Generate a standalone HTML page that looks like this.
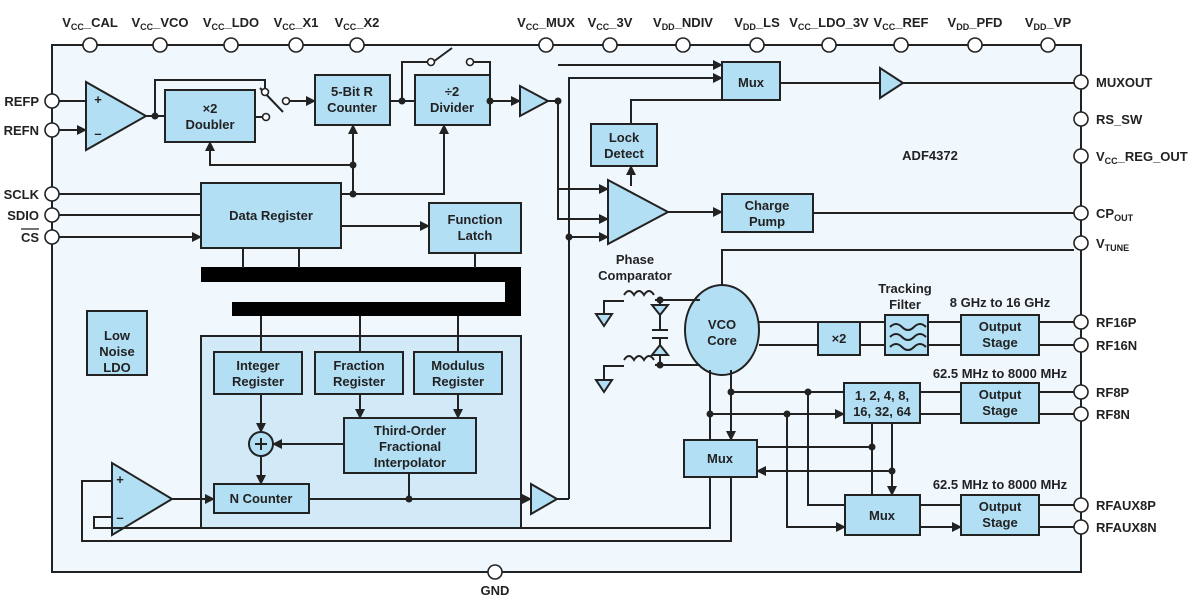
<!DOCTYPE html>
<html><head><style>
body{margin:0;background:#fff}
svg{display:block}
text{font-family:"Liberation Sans",sans-serif;font-weight:bold;font-size:13px;fill:#222}
.b{fill:#b3dff5;stroke:#222;stroke-width:2}
.l{fill:none;stroke:#222;stroke-width:2}
.p{fill:#fff;stroke:#222;stroke-width:1.6}
.d{fill:#222}
</style></head><body>
<svg width="1197" height="601" viewBox="0 0 1197 601">
<defs><marker id="a" viewBox="0 0 10 10" refX="9" refY="5" markerWidth="5" markerHeight="5" orient="auto"><path d="M0,0L10,5L0,10z" fill="#222"/></marker></defs>
<rect x="52" y="45" width="1029" height="527" fill="#f0f7fd" stroke="#222" stroke-width="2"/>
<g text-anchor="middle">
<text x="90" y="27">V<tspan font-size="9" dy="3">CC</tspan><tspan dy="-3">_CAL</tspan></text>
<text x="160" y="27">V<tspan font-size="9" dy="3">CC</tspan><tspan dy="-3">_VCO</tspan></text>
<text x="231" y="27">V<tspan font-size="9" dy="3">CC</tspan><tspan dy="-3">_LDO</tspan></text>
<text x="296" y="27">V<tspan font-size="9" dy="3">CC</tspan><tspan dy="-3">_X1</tspan></text>
<text x="357" y="27">V<tspan font-size="9" dy="3">CC</tspan><tspan dy="-3">_X2</tspan></text>
<text x="546" y="27">V<tspan font-size="9" dy="3">CC</tspan><tspan dy="-3">_MUX</tspan></text>
<text x="610" y="27">V<tspan font-size="9" dy="3">CC</tspan><tspan dy="-3">_3V</tspan></text>
<text x="683" y="27">V<tspan font-size="9" dy="3">DD</tspan><tspan dy="-3">_NDIV</tspan></text>
<text x="757" y="27">V<tspan font-size="9" dy="3">DD</tspan><tspan dy="-3">_LS</tspan></text>
<text x="829" y="27">V<tspan font-size="9" dy="3">CC</tspan><tspan dy="-3">_LDO_3V</tspan></text>
<text x="901" y="27">V<tspan font-size="9" dy="3">CC</tspan><tspan dy="-3">_REF</tspan></text>
<text x="975" y="27">V<tspan font-size="9" dy="3">DD</tspan><tspan dy="-3">_PFD</tspan></text>
<text x="1048" y="27">V<tspan font-size="9" dy="3">DD</tspan><tspan dy="-3">_VP</tspan></text>
<text x="495" y="595">GND</text>
</g>
<g text-anchor="end">
<text x="39" y="106">REFP</text><text x="39" y="135">REFN</text><text x="39" y="199">SCLK</text><text x="39" y="220">SDIO</text><text x="39" y="242">CS</text>
</g>
<line x1="21" y1="229" x2="39" y2="229" stroke="#222" stroke-width="1.3"/>
<text x="1096" y="87">MUXOUT</text><text x="1096" y="124">RS_SW</text>
<text x="1096" y="161">V<tspan font-size="9" dy="3">CC</tspan><tspan dy="-3">_REG_OUT</tspan></text>
<text x="1096" y="218">CP<tspan font-size="9" dy="3">OUT</tspan></text>
<text x="1096" y="248">V<tspan font-size="9" dy="3">TUNE</tspan></text>
<text x="1096" y="327">RF16P</text><text x="1096" y="350">RF16N</text><text x="1096" y="397">RF8P</text><text x="1096" y="419">RF8N</text><text x="1096" y="510">RFAUX8P</text><text x="1096" y="532">RFAUX8N</text>

<rect x="201" y="336" width="320" height="192" fill="#d2eaf8" stroke="#222" stroke-width="2"/>
<path d="M201,267H521V316H232V302H505V282H201z" fill="#000"/>
<g class="b">
<path d="M86,82V150L146,116z"/>
<rect x="165" y="90" width="90" height="52"/>
<rect x="315" y="75" width="75" height="50"/>
<rect x="415" y="75" width="75" height="50"/>
<path d="M520,86V116L548,101z"/>
<rect x="722" y="62" width="58" height="38"/>
<path d="M880,68V98L903,83z"/>
<rect x="591" y="124" width="66" height="42"/>
<path d="M608,180V244L668,212z"/>
<rect x="722" y="194" width="91" height="38"/>
<rect x="201" y="183" width="140" height="65"/>
<rect x="429" y="203" width="92" height="50"/>
<rect x="87" y="311" width="60" height="64"/>
<rect x="214" y="352" width="88" height="42"/>
<rect x="315" y="352" width="88" height="42"/>
<rect x="414" y="352" width="88" height="42"/>
<circle cx="261" cy="444" r="12"/>
<rect x="344" y="418" width="132" height="55"/>
<rect x="214" y="484" width="95" height="29"/>
<path d="M531,484V514L557,499z"/>
<path d="M112,463V535L172,499z"/>
<ellipse cx="722" cy="330" rx="37" ry="45"/>
<rect x="818" y="322" width="42" height="33"/>
<rect x="885" y="315" width="43" height="40"/>
<rect x="961" y="315" width="78" height="40"/>
<rect x="961" y="383" width="78" height="40"/>
<rect x="961" y="495" width="78" height="40"/>
<rect x="844" y="383" width="76" height="40"/>
<rect x="684" y="440" width="73" height="37"/>
<rect x="845" y="495" width="75" height="40"/>
</g>

<g class="l">
<path d="M59,101H86M59,130H86" marker-end="url(#a)"/>
<path d="M146,116H165M155,116V80H265V90"/>
<path d="M260,88L283,112"/><path d="M290,101H315" marker-end="url(#a)"/>
<path d="M255,117H262"/>
<path d="M390,101H415M402,101V62H428M473,62H490V101"/>
<path d="M433,62L452,48"/>
<path d="M490,101H520" marker-end="url(#a)"/>
<path d="M59,194H201M59,215H201M59,237H201" marker-end="url(#a)"/>
<path d="M353,194V125" marker-end="url(#a)"/>
<path d="M353,165H210V142" marker-end="url(#a)"/>
<path d="M341,194H444V125" marker-end="url(#a)"/>
<path d="M341,226H429" marker-end="url(#a)"/>
<path d="M243,248V268M299,248V268M475,253V268"/>
<path d="M261,316V352M360,316V352M458,316V352"/>
<path d="M548,101H558V219H608" marker-end="url(#a)"/>
<path d="M558,65H722" marker-end="url(#a)"/>
<path d="M558,189H608" marker-end="url(#a)"/>
<path d="M569,499V78H722" marker-end="url(#a)"/>
<path d="M569,237H608" marker-end="url(#a)"/>
<path d="M631,124V100H722"/>
<path d="M780,83H880"/><path d="M903,83H1074"/>
<path d="M631,186V166" marker-end="url(#a)"/>
<path d="M668,212H722" marker-end="url(#a)"/>
<path d="M813,213H1074"/>
<path d="M722,285V250H1074"/>
<path d="M261,394V432" marker-end="url(#a)"/>
<path d="M360,394V418" marker-end="url(#a)"/>
<path d="M458,394V418" marker-end="url(#a)"/>
<path d="M344,444H273" marker-end="url(#a)"/>
<path d="M261,456V484" marker-end="url(#a)"/>
<path d="M409,473V499"/>
<path d="M309,499H531" marker-end="url(#a)"/>
<path d="M557,499H569"/>
<path d="M172,499H214" marker-end="url(#a)"/>
<path d="M112,481H82V541H731V477M112,517H94V528H710V477"/>
<path d="M759,322H818M759,345H818M860,322H885M860,345H885"/>
<path d="M928,322H961M928,345H961M920,392H961M920,414H961M920,505H961M920,527H961" marker-end="url(#a)"/>
<path d="M1039,322H1074M1039,345H1074M1039,392H1074M1039,414H1074M1039,505H1074M1039,527H1074"/>
<path d="M731,370V392H844M710,370V414H844" marker-end="url(#a)"/>
<path d="M710,414V440M731,392V440" marker-end="url(#a)"/>
<path d="M808,392V505H845M787,414V527H845" marker-end="url(#a)"/>
<path d="M872,423V495M892,423V495" marker-end="url(#a)"/>
<path d="M872,447H757M892,471H757" marker-end="url(#a)"/>
<path d="M655,300H700M655,365H700"/>
<path d="M624,295q5,-8 10,0q5,-8 10,0q5,-8 10,0M604,314V301H624M624,360q5,-8 10,0q5,-8 10,0q5,-8 10,0M604,380V366H624"/>
<path d="M660,300V330M660,338V365M652,330H668M652,338H668"/>
</g>
<g class="b">
<path d="M596,314H612L604,326z M596,380H612L604,392z"/>
<path d="M652,305H668L660,315z"/>
<path d="M652,355H668L660,345z"/>
</g>
<g class="d">
<circle cx="155" cy="116" r="3.5"/><circle cx="402" cy="101" r="3.5"/><circle cx="490" cy="101" r="3.5"/><circle cx="558" cy="101" r="3.5"/><circle cx="353" cy="165" r="3.5"/><circle cx="353" cy="194" r="3.5"/><circle cx="569" cy="237" r="3.5"/><circle cx="409" cy="499" r="3.5"/>
<circle cx="660" cy="300" r="3.5"/><circle cx="660" cy="365" r="3.5"/><circle cx="731" cy="392" r="3.5"/><circle cx="710" cy="414" r="3.5"/><circle cx="808" cy="392" r="3.5"/><circle cx="787" cy="414" r="3.5"/><circle cx="872" cy="447" r="3.5"/><circle cx="892" cy="471" r="3.5"/>
</g>
<g class="p"><circle cx="265" cy="92" r="3.5"/><circle cx="286" cy="101" r="3.5"/><circle cx="266" cy="117" r="3.5"/><circle cx="431" cy="62" r="3.5"/><circle cx="470" cy="62" r="3.5"/></g>
<g class="p">
<circle cx="90" cy="45" r="7"/><circle cx="160" cy="45" r="7"/><circle cx="231" cy="45" r="7"/><circle cx="296" cy="45" r="7"/><circle cx="357" cy="45" r="7"/>
<circle cx="546" cy="45" r="7"/><circle cx="610" cy="45" r="7"/><circle cx="683" cy="45" r="7"/><circle cx="757" cy="45" r="7"/><circle cx="829" cy="45" r="7"/><circle cx="901" cy="45" r="7"/><circle cx="975" cy="45" r="7"/><circle cx="1048" cy="45" r="7"/>
<circle cx="495" cy="572" r="7"/>
<circle cx="52" cy="101" r="7"/><circle cx="52" cy="130" r="7"/><circle cx="52" cy="194" r="7"/><circle cx="52" cy="215" r="7"/><circle cx="52" cy="237" r="7"/>
<circle cx="1081" cy="82" r="7"/><circle cx="1081" cy="119" r="7"/><circle cx="1081" cy="156" r="7"/><circle cx="1081" cy="213" r="7"/><circle cx="1081" cy="243" r="7"/><circle cx="1081" cy="322" r="7"/><circle cx="1081" cy="345" r="7"/><circle cx="1081" cy="392" r="7"/><circle cx="1081" cy="414" r="7"/><circle cx="1081" cy="505" r="7"/><circle cx="1081" cy="527" r="7"/>
</g>
<path d="M890,327q6,-6 12,0t12,0t12,0M890,337q6,-6 12,0t12,0t12,0M890,347q6,-6 12,0t12,0t12,0" class="l" stroke-width="1.4"/>
<path d="M255,444h12M261,438v12" class="l"/>
<g text-anchor="middle">
<text x="98" y="104" font-size="14">+</text><text x="98" y="138" font-size="14">–</text>
<text x="120" y="484" font-size="12">+</text><text x="120" y="522" font-size="14">–</text>
<text x="210" y="113">×2</text><text x="210" y="129">Doubler</text>
<text x="352" y="96">5-Bit R</text><text x="352" y="112">Counter</text>
<text x="452" y="96">÷2</text><text x="452" y="112">Divider</text>
<text x="751" y="87">Mux</text>
<text x="624" y="142">Lock</text><text x="624" y="158">Detect</text>
<text x="767" y="210">Charge</text><text x="767" y="226">Pump</text>
<text x="271" y="220">Data Register</text>
<text x="475" y="224">Function</text><text x="475" y="240">Latch</text>
<text x="117" y="340">Low</text><text x="117" y="356">Noise</text><text x="117" y="372">LDO</text>
<text x="258" y="370">Integer</text><text x="258" y="386">Register</text>
<text x="359" y="370">Fraction</text><text x="359" y="386">Register</text>
<text x="458" y="370">Modulus</text><text x="458" y="386">Register</text>
<text x="410" y="435">Third-Order</text><text x="410" y="451">Fractional</text><text x="410" y="467">Interpolator</text>
<text x="261" y="503">N Counter</text>
<text x="722" y="329">VCO</text><text x="722" y="345">Core</text>
<text x="839" y="343">×2</text>
<text x="1000" y="331">Output</text><text x="1000" y="347">Stage</text>
<text x="1000" y="399">Output</text><text x="1000" y="415">Stage</text>
<text x="1000" y="511">Output</text><text x="1000" y="527">Stage</text>
<text x="882" y="400">1, 2, 4, 8,</text><text x="882" y="416">16, 32, 64</text>
<text x="720" y="463">Mux</text><text x="882" y="520">Mux</text>
<text x="635" y="264">Phase</text><text x="635" y="280">Comparator</text>
<text x="905" y="293">Tracking</text><text x="905" y="309">Filter</text>
<text x="1000" y="307">8 GHz to 16 GHz</text>
<text x="1000" y="378">62.5 MHz to 8000 MHz</text>
<text x="1000" y="489">62.5 MHz to 8000 MHz</text>
<text x="930" y="160" font-size="15">ADF4372</text>
</g>
</svg>
</body></html>
